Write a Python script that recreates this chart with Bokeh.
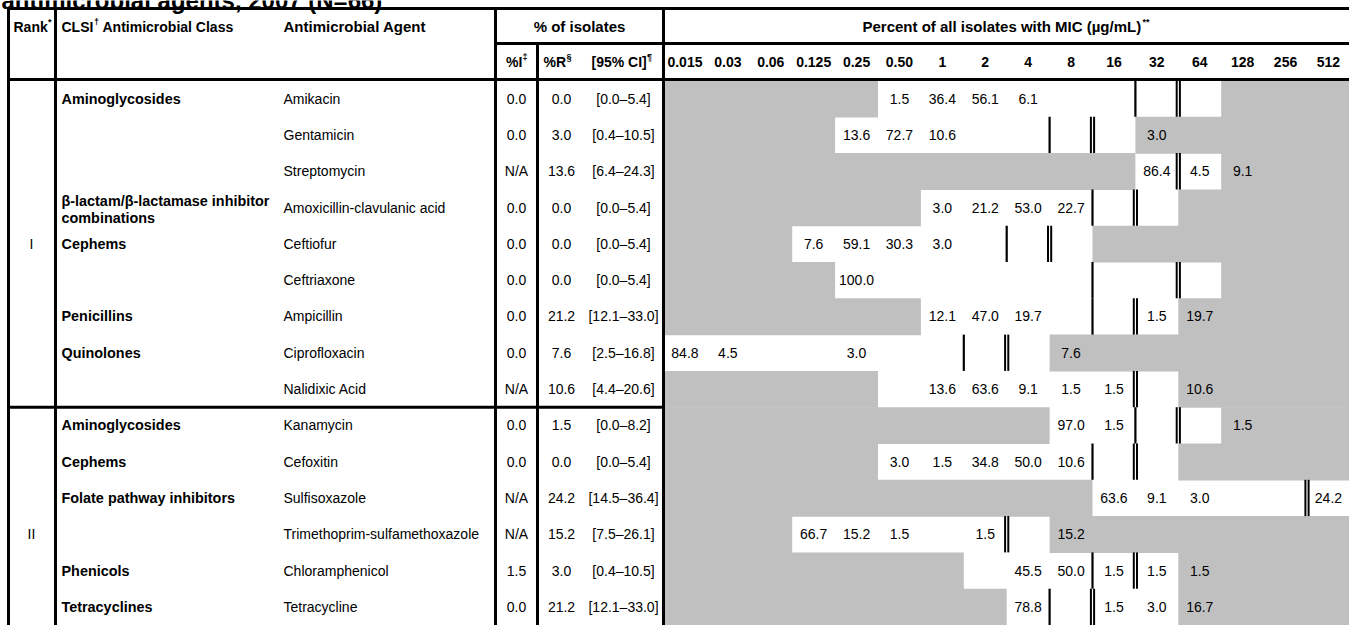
from bokeh.plotting import figure
from bokeh.models import Range1d
from bokeh.core.properties import value
from bokeh.embed import file_html
from bokeh.resources import INLINE

# ---------------------------------------------------------------- data
title_text = "antimicrobial agents, 2007 (N=66)"

mic_labels = ["0.015", "0.03", "0.06", "0.125", "0.25", "0.50", "1", "2",
              "4", "8", "16", "32", "64", "128", "256", "512"]

ranks = ["I", "II"]
rank_rows = [4, 12]

classes = ["Aminoglycosides", "", "",
           "β-lactam/β-lactamase inhibitor\ncombinations",
           "Cephems", "", "Penicillins", "Quinolones", "",
           "Aminoglycosides", "Cephems", "Folate pathway inhibitors", "",
           "Phenicols", "Tetracyclines"]

agents = ["Amikacin", "Gentamicin", "Streptomycin",
          "Amoxicillin-clavulanic acid", "Ceftiofur", "Ceftriaxone",
          "Ampicillin", "Ciprofloxacin", "Nalidixic Acid", "Kanamycin",
          "Cefoxitin", "Sulfisoxazole", "Trimethoprim-sulfamethoxazole",
          "Chloramphenicol", "Tetracycline"]

pct_i = ["0.0", "0.0", "N/A", "0.0", "0.0", "0.0", "0.0", "0.0", "N/A",
         "0.0", "0.0", "N/A", "N/A", "1.5", "0.0"]
pct_r = [0.0, 3.0, 13.6, 0.0, 0.0, 0.0, 21.2, 7.6, 10.6,
         1.5, 0.0, 24.2, 15.2, 3.0, 21.2]
ci_95 = ["[0.0–5.4]", "[0.4–10.5]", "[6.4–24.3]", "[0.0–5.4]", "[0.0–5.4]",
         "[0.0–5.4]", "[12.1–33.0]", "[2.5–16.8]", "[4.4–20.6]",
         "[0.0–8.2]", "[0.0–5.4]", "[14.5–36.4]", "[7.5–26.1]",
         "[0.4–10.5]", "[12.1–33.0]"]

# tested dilution range (first / last MIC column index, inclusive)
tested_lo = [5, 4, 11, 6, 3, 4, 6, 0, 5, 9, 5, 10, 3, 7, 8]
tested_hi = [12, 10, 12, 11, 9, 12, 11, 8, 11, 12, 11, 15, 8, 11, 11]

# breakpoint boundaries: line drawn before this MIC column index
s_break = [11, 9, None, 10, 8, 10, 10, 7, None, 11, 10, None, None, 10, 9]
r_break = [12, 10, 12, 11, 9, 12, 11, 8, 11, 12, 11, 15, 8, 11, 10]

# percent of isolates at each MIC (column index -> percent)
mic_pct = [
    {5: 1.5, 6: 36.4, 7: 56.1, 8: 6.1},
    {4: 13.6, 5: 72.7, 6: 10.6, 11: 3.0},
    {11: 86.4, 12: 4.5, 13: 9.1},
    {6: 3.0, 7: 21.2, 8: 53.0, 9: 22.7},
    {3: 7.6, 4: 59.1, 5: 30.3, 6: 3.0},
    {4: 100.0},
    {6: 12.1, 7: 47.0, 8: 19.7, 11: 1.5, 12: 19.7},
    {0: 84.8, 1: 4.5, 4: 3.0, 9: 7.6},
    {6: 13.6, 7: 63.6, 8: 9.1, 9: 1.5, 10: 1.5, 12: 10.6},
    {9: 97.0, 10: 1.5, 13: 1.5},
    {5: 3.0, 6: 1.5, 7: 34.8, 8: 50.0, 9: 10.6},
    {10: 63.6, 11: 9.1, 12: 3.0, 15: 24.2},
    {3: 66.7, 4: 15.2, 5: 1.5, 7: 1.5, 9: 15.2},
    {8: 45.5, 9: 50.0, 10: 1.5, 11: 1.5, 12: 1.5},
    {8: 78.8, 10: 1.5, 11: 3.0, 12: 16.7},
]

# ---------------------------------------------------------------- layout
W, H = 1349, 625
X_LEFT, X_RANK, X_PCT, X_I, X_MIC = 8, 55, 495, 537, 663
COL_W = 42.9
Y_TOP, Y_MID, Y_HEAD = 8, 43, 79
ROW_Y0, ROW_H = 80, 36.3
GRAY = "#c0c0c0"
FONT = value("Liberation Sans")
FS = "14px"
SUP = "9px"

n_rows = len(agents)
n_cols = len(mic_labels)


def col_left(k):
    return X_MIC + k * COL_W


def col_mid(k):
    return X_MIC + (k + 0.5) * COL_W


def row_top(i):
    return ROW_Y0 + i * ROW_H


def row_mid(i):
    return ROW_Y0 + (i + 0.5) * ROW_H


p = figure(width=W, height=H, x_range=Range1d(0, W), y_range=Range1d(H, 0),
           output_backend="svg", toolbar_location=None, min_border=0,
           x_axis_type=None, y_axis_type=None)
p.grid.visible = False
p.outline_line_color = None
p.background_fill_color = "white"
p.border_fill_color = "white"

# ---- shaded cells outside each tested dilution range
ql, qr, qt, qb = [], [], [], []
for i in range(n_rows):
    top = row_top(i)
    bot = top + ROW_H + (0.6 if i < n_rows - 1 else 0)
    if tested_lo[i] > 0:
        ql.append(col_left(0)); qr.append(col_left(tested_lo[i]))
        qt.append(top); qb.append(bot)
    if tested_hi[i] < n_cols - 1:
        ql.append(col_left(tested_hi[i] + 1)); qr.append(col_left(n_cols) + 2)
        qt.append(top); qb.append(bot)
p.quad(left=ql, right=qr, top=qt, bottom=qb, fill_color=GRAY, line_color=None)

# ---- MIC distribution values
vx, vy, vt = [], [], []
for i, row in enumerate(mic_pct):
    for k, v in row.items():
        vx.append(col_mid(k)); vy.append(row_mid(i)); vt.append(f"{v:.1f}")
p.text(x=vx, y=vy, text=vt, text_align="center", text_baseline="middle",
       text_font=FONT, text_font_size=FS, text_color="black")

# ---- breakpoint markers (single = susceptible, double = resistant)
sx0, sy0, sy1 = [], [], []
dx0, dy0, dy1 = [], [], []
for i in range(n_rows):
    top, bot = row_top(i), row_top(i) + ROW_H
    if s_break[i] is not None:
        sx0.append(col_left(s_break[i])); sy0.append(top); sy1.append(bot)
    if r_break[i] is not None:
        x = col_left(r_break[i])
        for off in (-1.6, 1.6):
            dx0.append(x + off); dy0.append(top); dy1.append(bot)
p.segment(x0=sx0, y0=sy0, x1=sx0, y1=sy1, line_color="black", line_width=2.2)
p.segment(x0=dx0, y0=dy0, x1=dx0, y1=dy1, line_color="black", line_width=2)

# ---- left-hand columns
p.text(x=[31] * len(ranks), y=[row_mid(r) for r in rank_rows], text=ranks,
       text_align="center", text_baseline="middle", text_font=FONT,
       text_font_size=FS)

cx, cy, ct = [], [], []
for i, c in enumerate(classes):
    if not c:
        continue
    lines = c.split("\n")
    if len(lines) == 1:
        cx.append(61); cy.append(row_mid(i)); ct.append(c)
    else:
        for j, ln in enumerate(lines):
            cx.append(61); cy.append(row_mid(i) - 7 + 17 * j); ct.append(ln)
p.text(x=cx, y=cy, text=ct, text_align="left", text_baseline="middle",
       text_font=FONT, text_font_size="14.4px", text_font_style="bold")

p.text(x=[283] * n_rows, y=[row_mid(i) for i in range(n_rows)], text=agents,
       text_align="left", text_baseline="middle", text_font=FONT,
       text_font_size=FS)
p.text(x=[516] * n_rows, y=[row_mid(i) for i in range(n_rows)], text=pct_i,
       text_align="center", text_baseline="middle", text_font=FONT,
       text_font_size=FS)
p.text(x=[561] * n_rows, y=[row_mid(i) for i in range(n_rows)],
       text=[f"{v:.1f}" for v in pct_r], text_align="center",
       text_baseline="middle", text_font=FONT, text_font_size=FS)
p.text(x=[623] * n_rows, y=[row_mid(i) for i in range(n_rows)], text=ci_95,
       text_align="center", text_baseline="middle", text_font=FONT,
       text_font_size=FS)

# ---- header
HY1, HY2 = 26, 61
hdr = dict(text_baseline="middle", text_font=FONT, text_font_size=FS,
           text_font_style="bold")
hdr_wide = dict(hdr, text_font_size="15px")
sup = dict(text_baseline="middle", text_font=FONT, text_font_size=SUP,
           text_font_style="bold", text_align="left")
p.text(x=[13, 61, 102], y=[HY1] * 3,
       text=["Rank", "CLSI", "Antimicrobial Class"], text_align="left", **hdr)
p.text(x=[283], y=[HY1], text=["Antimicrobial Agent"], text_align="left",
       **hdr_wide)
p.text(x=[47.5, 93.5], y=[HY1 - 5] * 2, text=["*", "†"], **sup)
p.text(x=[(X_PCT + X_MIC) / 2], y=[HY1], text=["% of isolates"],
       text_align="center", **hdr_wide)
p.text(x=[862], y=[HY1], text=["Percent of all isolates with MIC (µg/mL)"],
       text_align="left", **hdr_wide)
p.text(x=[1142], y=[HY1 - 5], text=["**"], **sup)
p.text(x=[505.5, 543, 591], y=[HY2] * 3, text=["%I", "%R", "[95% CI]"],
       text_align="left", **hdr)
p.text(x=[522, 566, 646.5], y=[HY2 - 5] * 3, text=["‡", "§", "¶"], **sup)
p.text(x=[col_mid(k) for k in range(n_cols)], y=[HY2] * n_cols,
       text=mic_labels, text_align="center", **hdr)

# ---- title line (only its lower part falls inside the page)
p.text(x=[1], y=[-0.5], text=[title_text], text_align="left",
       text_baseline="alphabetic", text_font=FONT, text_font_size="24px",
       text_font_style="bold")

# ---- table rules
LW = 3
hx0 = [X_LEFT - 1.5, X_PCT, X_LEFT - 1.5, X_LEFT - 1.5]
hx1 = [W + 2, W + 2, W + 2, X_MIC + 1.5]
hy = [Y_TOP, Y_MID, Y_HEAD, row_top(9)]
p.segment(x0=hx0, y0=hy, x1=hx1, y1=hy, line_color="black", line_width=LW)
vxl = [X_LEFT, X_RANK, X_PCT, X_I, X_MIC]
vy0 = [Y_TOP, Y_TOP, Y_TOP, Y_MID, Y_TOP]
p.segment(x0=vxl, y0=vy0, x1=vxl, y1=[H + 2] * len(vxl), line_color="black",
          line_width=LW)

open("out.html", "w").write(file_html(p, INLINE))
